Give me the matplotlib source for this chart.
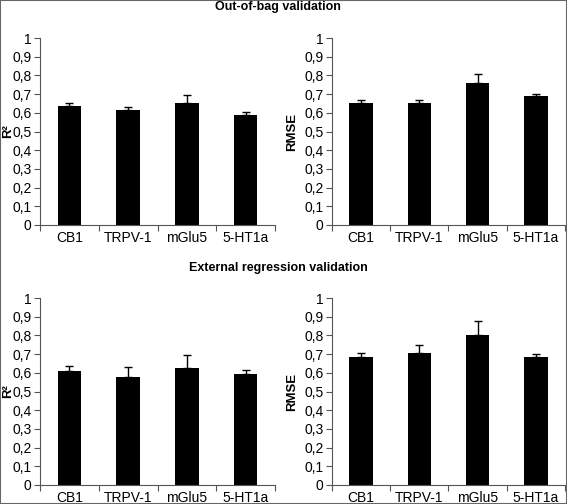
"""
Barras de validação (R² e RMSE) para os quatro alvos: out-of-bag e validação externa.
Saída: out.png
"""
import numpy as np
import matplotlib.pyplot as plt
from matplotlib.patches import Rectangle
from matplotlib.ticker import FuncFormatter

plt.rcParams["font.family"] = ["Liberation Sans", "DejaVu Sans"]

targets = ["CB1", "TRPV-1", "mGlu5", "5-HT1a"]

oob_r2 = [0.635, 0.615, 0.655, 0.590]
oob_r2_err = [0.015, 0.015, 0.038, 0.015]
oob_rmse = [0.655, 0.655, 0.760, 0.692]
oob_rmse_err = [0.016, 0.015, 0.050, 0.008]

ext_r2 = [0.610, 0.575, 0.625, 0.595]
ext_r2_err = [0.028, 0.058, 0.072, 0.020]
ext_rmse = [0.685, 0.705, 0.800, 0.685]
ext_rmse_err = [0.020, 0.045, 0.075, 0.015]

W, H = 567, 504


def px_axes(fig, x0, x1, y_top, y_bot):
    return fig.add_axes([x0 / W, (H - y_bot) / H, (x1 - x0) / W, (y_bot - y_top) / H])


def bar_panel(ax, values, errs, ylabel, label_x):
    x = np.arange(len(targets))
    ax.bar(x, values, width=0.4, color="black", zorder=2)
    ax.errorbar(x, values, yerr=[np.zeros(len(errs)), errs], fmt="none",
                ecolor="black", elinewidth=1, capsize=3, capthick=1, zorder=3)
    ax.set_xlim(-0.5, len(targets) - 0.5)
    ax.set_ylim(0, 1)
    ax.set_yticks(np.arange(0, 1.01, 0.1))
    ax.yaxis.set_major_formatter(FuncFormatter(lambda v, _: f"{v:.1f}".replace(".", ",").replace(",0", "")))
    ax.set_xticks(np.arange(-0.5, len(targets)))
    ax.set_xticklabels([])
    ax.set_xticks(x, minor=True)
    ax.set_xticklabels(targets, minor=True)
    ax.tick_params(axis="x", which="major", length=4, width=0.8, color="#555555")
    ax.tick_params(axis="x", which="minor", length=0, pad=4, labelsize=10)
    ax.tick_params(axis="y", length=4, width=0.8, color="#555555", labelsize=10, pad=2)
    for s in ("top", "right"):
        ax.spines[s].set_visible(False)
    for s in ("left", "bottom"):
        ax.spines[s].set_color("#555555")
        ax.spines[s].set_linewidth(0.8)
    ax.set_ylabel(ylabel, fontweight="bold", fontsize=9.5)
    ax.yaxis.set_label_coords(label_x, 0.5)


fig = plt.figure(figsize=(W / 100, H / 100), dpi=100)

bar_panel(px_axes(fig, 40, 275, 38, 225), oob_r2, oob_r2_err, "R²", -0.112)
bar_panel(px_axes(fig, 332, 565, 38, 225), oob_rmse, oob_rmse_err, "RMSE", -0.145)
bar_panel(px_axes(fig, 40, 275, 298, 485), ext_r2, ext_r2_err, "R²", -0.112)
bar_panel(px_axes(fig, 332, 565, 298, 485), ext_rmse, ext_rmse_err, "RMSE", -0.145)

fig.text(278 / W, 1 - 7 / H, "Out-of-bag validation", ha="center", va="center",
         fontsize=9, fontweight="bold")
fig.text(278 / W, 1 - 268 / H, "External regression validation", ha="center", va="center",
         fontsize=9, fontweight="bold")

fig.patches.append(Rectangle((0, 0), 1, 1, transform=fig.transFigure, fill=False,
                             edgecolor="#666666", linewidth=1.5))

fig.savefig("out.png", dpi=100)
plt.close(fig)
